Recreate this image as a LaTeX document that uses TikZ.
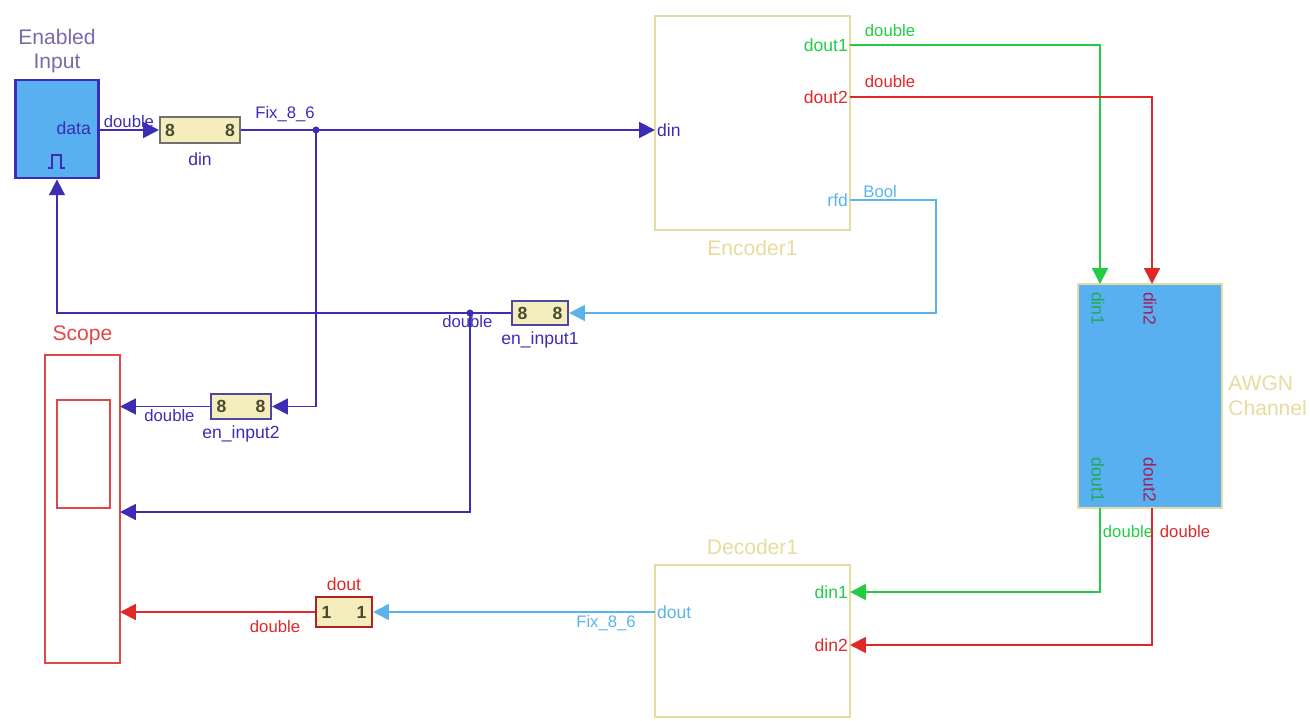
\documentclass[tikz,border=0pt]{standalone}
\usepackage{fontspec}
\setmainfont{Liberation Sans}
\usetikzlibrary{arrows.meta,positioning}
\definecolor{sgwire}{HTML}{3C2DB4}
\definecolor{sggreen}{HTML}{22CC44}
\definecolor{sgred}{HTML}{E02828}
\definecolor{sglight}{HTML}{5AB4EA}
\definecolor{sgfill}{HTML}{58B0F0}
\definecolor{sgpale}{HTML}{E6DCA0}
\definecolor{sggwfill}{HTML}{F4EEBC}
\definecolor{sggwedge}{HTML}{707070}
\definecolor{sgeight}{HTML}{4A4A30}
\definecolor{sgtitle}{HTML}{7A6AAA}
\definecolor{sgscope}{HTML}{E04848}
\definecolor{sgmag}{HTML}{A0205A}
\definecolor{sggreendark}{HTML}{22AA55}
\newcommand{\gwdigits}[2]{\makebox[#1]{#2\hfill#2}}
\tikzset{
 sg wire/.style={line width=1.1pt,-{Triangle[length=9pt,width=9pt]}},
 sg block/.style={rectangle,inner sep=0pt,line width=.8pt},
 sg gateway/.style={rectangle,draw=sggwedge,fill=sggwfill,line width=1.2pt,
                    inner sep=2pt,text=sgeight,font=\bfseries\fontsize{10}{10}\selectfont},
 sg port/.style={font=\fontsize{10}{11}\selectfont,inner sep=1pt},
 sg wire label/.style={font=\fontsize{9.5}{10}\selectfont,inner sep=1pt},
 sg title/.style={font=\fontsize{12}{14}\selectfont,align=center,inner sep=1pt},
 sg dot/.style={circle,fill=sgwire,minimum size=4pt,inner sep=0pt}
}
\begin{document}
\begin{tikzpicture}[x=0.02cm,y=-0.02cm]
 \useasboundingbox (0,0) rectangle (1310,720);
 % blocks, one pixel of the reference is one unit
 \node[sg block,draw=sgwire,line width=1.6pt,fill=sgfill,minimum width=1.66cm,
       minimum height=1.96cm] (enin) at (57,129) {};
 \node[sg title,text=sgtitle,above=2pt of enin] {Enabled\\Input};
 \node[sg gateway,minimum width=1.6cm,minimum height=0.52cm] (gwdin) at (200,130) {\gwdigits{1.4cm}{8}};
 \node[sg port,text=sgwire,below=4pt of gwdin] {din};
 \node[sg block,draw=sgpale,minimum width=3.9cm,minimum height=4.28cm] (enc) at (752.5,123) {};
 \node[sg title,text=sgpale,below=4pt of enc] {Encoder1};
 \node[sg gateway,draw=sgwire!70!gray,minimum width=1.12cm,minimum height=0.48cm] (gwen1) at (540,313) {\gwdigits{0.9cm}{8}};
 \node[sg port,text=sgwire,below=2pt of gwen1] {en\_input1};
 \node[sg gateway,draw=sgwire!70!gray,minimum width=1.2cm,minimum height=0.5cm] (gwen2) at (241,406.5) {\gwdigits{0.98cm}{8}};
 \node[sg port,text=sgwire,below=2pt of gwen2] {en\_input2};
 \node[sg block,draw=sgscope,minimum width=1.5cm,minimum height=6.16cm] (scope) at (82.5,509) {};
 \node[sg block,draw=sgscope,minimum width=1.06cm,minimum height=2.16cm] (scopein) at (83.5,454) {};
 \node[sg title,text=sgscope,above=4pt of scope] {Scope};
 \node[sg block,draw=sgpale,fill=sgfill,minimum width=2.88cm,minimum height=4.48cm] (awgn) at (1150,396) {};
 \node[sg title,text=sgpale,align=left,right=2pt of awgn] {AWGN\\Channel};
 \node[sg block,draw=sgpale,minimum width=3.9cm,minimum height=3.04cm] (dec) at (752.5,641) {};
 \node[sg title,text=sgpale,above=4pt of dec] {Decoder1};
 \node[sg gateway,draw=sgred!80!black,minimum width=1.12cm,minimum height=0.6cm] (gwdout) at (344,612) {\gwdigits{0.9cm}{1}};
 \node[sg port,text=sgred,above=2pt of gwdout] {dout};

 % ports
 \coordinate (enin-data) at (99,130);
 \coordinate (enc-din) at (655,130);
 \coordinate (enc-dout1) at (850,45);
 \coordinate (enc-dout2) at (850,97);
 \coordinate (enc-rfd) at (850,200);
 \coordinate (rfd-bend) at (936,200);
 \coordinate (awgn-din1) at (1100,284);
 \coordinate (awgn-din2) at (1152,284);
 \coordinate (awgn-dout1) at (1100,508);
 \coordinate (awgn-dout2) at (1152,508);
 \coordinate (dec-din1) at (850,592);
 \coordinate (dec-din2) at (850,645);
 \coordinate (dec-dout) at (655,612);
 \coordinate (scope-in1) at (120,406.5);
 \coordinate (scope-in2) at (120,512);
 \coordinate (scope-in3) at (120,612);
 \coordinate (j1) at (316,130);
 \coordinate (j2) at (470,313);

 \node[sg port,text=sgwire,left] at (93,128) {data};
 \draw[sgwire,line width=1.2pt] (48,168)--(52,168)--(52,155)--(61,155)--(61,168)--(65,168);
 \node[sg port,text=sgwire,right] at (enc-din) {din};
 \node[sg port,text=sggreen,left] at (enc-dout1) {dout1};
 \node[sg port,text=sgred,left] at (enc-dout2) {dout2};
 \node[sg port,text=sglight,left] at (enc-rfd) {rfd};
 \node[sg port,text=sggreendark,rotate=-90,anchor=west] at (1098,290) {din1};
 \node[sg port,text=sgmag,rotate=-90,anchor=west] at (1150,290) {din2};
 \node[sg port,text=sggreendark,rotate=-90,anchor=east] at (1098,504) {dout1};
 \node[sg port,text=sgmag,rotate=-90,anchor=east] at (1150,504) {dout2};
 \node[sg port,text=sggreen,left] at (dec-din1) {din1};
 \node[sg port,text=sgred,left] at (dec-din2) {din2};
 \node[sg port,text=sglight,right] at (dec-dout) {dout};

 % wires
 \draw[sg wire,sgwire] (enin-data) -- node[sg wire label,above,pos=.5] {double} (gwdin.west);
 \draw[sg wire,sgwire] (gwdin.east) -- (enc-din);
 \node[sg wire label,text=sgwire] at (285,114) {Fix\_8\_6};
 \draw[sg wire,sgwire] (j1) |- (gwen2.east);
 \draw[sg wire,sgwire] (gwen2.west) -- node[sg wire label,below,pos=.45] {double} (scope-in1);
 \draw[sg wire,sglight] (enc-rfd) -- node[sg wire label,above,pos=.35] {Bool} (rfd-bend) |- (gwen1.east);
 \draw[sg wire,sgwire] (gwen1.west) -| (enin.south);
 \draw[sg wire,sgwire] (j2) |- (scope-in2);
 \node[sg wire label,text=sgwire,below left=0pt and -14pt] at (j2) {double};
 \draw[sg wire,sggreen] (enc-dout1) -| (awgn-din1);
 \node[sg wire label,text=sggreen] at (890,31) {double};
 \draw[sg wire,sgred] (enc-dout2) -| (awgn-din2);
 \node[sg wire label,text=sgred] at (890,82) {double};
 \draw[sg wire,sggreen] (awgn-dout1) |- (dec-din1);
 \node[sg wire label,text=sggreen] at (1128,532) {double};
 \draw[sg wire,sgred] (awgn-dout2) |- (dec-din2);
 \node[sg wire label,text=sgred] at (1185,532) {double};
 \draw[sg wire,sglight] (dec-dout) -- (gwdout.east);
 \node[sg wire label,text=sglight] at (606,623) {Fix\_8\_6};
 \draw[sg wire,sgred] (gwdout.west) -- (scope-in3);
 \node[sg wire label,text=sgred] at (275,627) {double};
 \foreach \j in {j1,j2} \node[sg dot] at (\j) {};
\end{tikzpicture}
\end{document}
